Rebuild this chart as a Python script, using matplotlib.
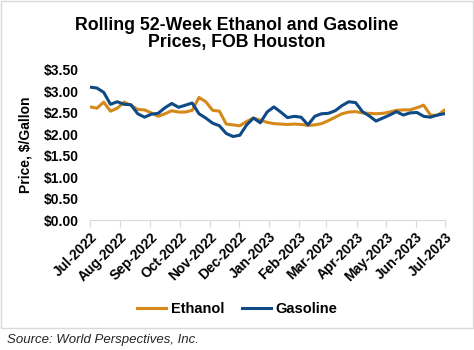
import numpy as np
import pandas as pd
import matplotlib
matplotlib.use("Agg")
import matplotlib.pyplot as plt
import matplotlib.dates as mdates
from matplotlib.patches import Rectangle

plt.rcParams['font.family'] = ['Liberation Sans', 'DejaVu Sans']

# weekly observations, Jul-2022 .. Jun-2023
weeks = pd.date_range("2022-07-01", periods=53, freq="7D")

ethanol = [2.64, 2.61, 2.75, 2.54, 2.61, 2.75, 2.68, 2.58, 2.57, 2.50,
           2.42, 2.48, 2.55, 2.52, 2.52, 2.56, 2.86, 2.76, 2.56, 2.54,
           2.24, 2.22, 2.20, 2.30, 2.38, 2.33, 2.28, 2.25, 2.24, 2.23,
           2.24, 2.23, 2.21, 2.22, 2.25, 2.32, 2.40, 2.48, 2.52, 2.53,
           2.50, 2.49, 2.48, 2.49, 2.52, 2.56, 2.57, 2.57, 2.62, 2.68,
           2.45, 2.44, 2.56]

gasoline = [3.10, 3.08, 2.98, 2.70, 2.76, 2.70, 2.69, 2.48, 2.40, 2.47,
            2.49, 2.62, 2.72, 2.63, 2.68, 2.73, 2.48, 2.38, 2.26, 2.20,
            2.02, 1.95, 1.98, 2.22, 2.38, 2.27, 2.52, 2.64, 2.52, 2.39,
            2.42, 2.40, 2.22, 2.42, 2.48, 2.49, 2.55, 2.67, 2.76, 2.74,
            2.53, 2.43, 2.31, 2.38, 2.45, 2.53, 2.45, 2.50, 2.51, 2.42,
            2.40, 2.45, 2.48]

yticks = np.arange(0, 3.51, 0.5)

fig = plt.figure(figsize=(4.74, 3.5), dpi=100)
ax = fig.add_axes([0.19, 0.371, 0.749, 0.429])

ax.plot(weeks, ethanol, color="#D4891A", lw=2.2, label="Ethanol")
ax.plot(weeks, gasoline, color="#0E4A85", lw=2.2, label="Gasoline")

ax.set_ylim(0, 3.5)
ax.set_yticks(yticks)
ax.set_yticklabels(["${:.2f}".format(v) for v in yticks], fontsize=10, fontweight="bold")
ax.set_xlim(pd.Timestamp("2022-07-01"), pd.Timestamp("2023-07-01"))
ax.xaxis.set_major_locator(mdates.MonthLocator())
ax.xaxis.set_major_formatter(mdates.DateFormatter("%b-%Y"))
for lab in ax.get_xticklabels():
    lab.set_rotation(45)
    lab.set_ha("right")
    lab.set_rotation_mode("anchor")
    lab.set_fontsize(10)
    lab.set_fontweight("bold")

for s in ["top", "right", "left"]:
    ax.spines[s].set_visible(False)
ax.spines["bottom"].set_color("#d9d9d9")
ax.tick_params(axis="y", length=0, pad=8)
ax.tick_params(axis="x", direction="out", length=5, color="#d9d9d9", pad=2)

ax.set_ylabel("Price, $/Gallon", fontsize=10, fontweight="bold", labelpad=8)

fig.text(0.5, 0.952, "Rolling 52-Week Ethanol and Gasoline\nPrices, FOB Houston",
         ha="center", va="top", fontsize=12.8, fontweight="bold", linespacing=1.05)

leg = fig.legend(loc="center", bbox_to_anchor=(0.5, 0.117), ncol=2, frameon=False,
                 prop={"weight": "bold", "size": 10.5}, handlelength=2.0,
                 columnspacing=1.2, handletextpad=0.3)

fig.patches.append(Rectangle((0.002, 0.062), 0.995, 0.935, transform=fig.transFigure,
                             fill=False, edgecolor="#d9d9d9", lw=1))

fig.text(0.015, 0.028, "Source: World Perspectives, Inc.", fontsize=9.5,
         style="italic", color="#262626", va="center")

fig.savefig("out.png", dpi=100)
